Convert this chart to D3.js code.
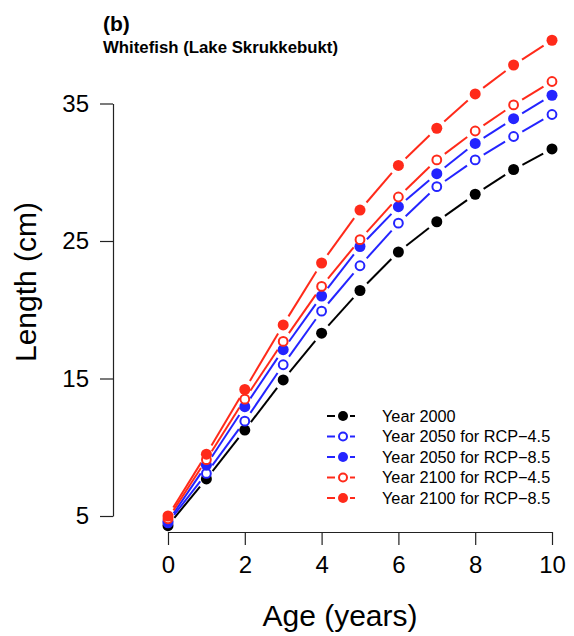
<!DOCTYPE html>
<html>
  <head>
    <script src="https://d3js.org/d3.v7.min.js" type="text/javascript"></script>
    <style>
      body { margin: 0; background: #fff; }
      text { font-family: "Liberation Sans", Arial, Helvetica, sans-serif; }
    </style>
  </head>
  <body>
  <svg id="svg" width="574" height="636"></svg>

  <script type="text/javascript">
   // growth curves
   var ages = [0, 1, 2, 3, 4, 5, 6, 7, 8, 9, 10];
   var year2000   = [4.3, 7.7, 11.25, 14.9, 18.3, 21.4, 24.2, 26.4, 28.4, 30.2, 31.7];
   var y2050rcp45 = [4.5, 8.1, 11.9, 16.0, 19.9, 23.2, 26.3, 28.95, 30.9, 32.6, 34.2];
   var y2050rcp85 = [4.6, 8.7, 12.95, 17.1, 21.0, 24.6, 27.5, 29.9, 32.1, 33.9, 35.6];
   var y2100rcp45 = [4.8, 9.1, 13.5, 17.7, 21.7, 25.1, 28.2, 30.9, 33.0, 34.9, 36.6];
   var y2100rcp85 = [5.0, 9.5, 14.2, 18.9, 23.4, 27.25, 30.5, 33.2, 35.7, 37.8, 39.6];

   var seriesNames = ["Year 2000", "Year 2050 for RCP\u22124.5", "Year 2050 for RCP\u22128.5",
                      "Year 2100 for RCP\u22124.5", "Year 2100 for RCP\u22128.5"];
   var xTicks = [0, 2, 4, 6, 8, 10];
   var yTicks = [5, 15, 25, 35];

   var red = "#ff2a1a", blue = "#2424ff";
   var series = [
     {name: seriesNames[0], values: year2000,   color: "#000", open: false},
     {name: seriesNames[1], values: y2050rcp45, color: blue,   open: true},
     {name: seriesNames[2], values: y2050rcp85, color: blue,   open: false},
     {name: seriesNames[3], values: y2100rcp45, color: red,    open: true},
     {name: seriesNames[4], values: y2100rcp85, color: red,    open: false}
   ];

   var svg = d3.select("svg");

   var x = d3.scaleLinear().domain([0, 10]).range([168, 552]);
   var y = d3.scaleLinear().domain([5, 35]).range([516, 103.5]);

   // axes, R style (line only spans the tick range)
   var xAxis = svg.append("g")
       .attr("transform", "translate(0,532)")
       .call(d3.axisBottom(x).tickValues(xTicks).tickSize(13).tickPadding(5).tickSizeOuter(0));
   var yAxis = svg.append("g")
       .attr("transform", "translate(113,0)")
       .call(d3.axisLeft(y).tickValues(yTicks).tickSize(13).tickPadding(11).tickSizeOuter(0));

   [xAxis, yAxis].forEach(function(a){
     a.select(".domain").attr("stroke", "#222").attr("stroke-width", 1.2);
     a.selectAll(".tick line").attr("stroke", "#222").attr("stroke-width", 1.2);
     a.selectAll(".tick text")
       .attr("fill", "#000")
       .style("font-size", "24px")
       .style("font-family", "Liberation Sans, Arial, sans-serif");
   });
   xAxis.selectAll(".tick text").attr("dy", "0.95em");

   // titles
   svg.append("text").attr("x", 103).attr("y", 31)
      .style("font-size", "21px").style("font-weight", "bold").text("(b)");
   svg.append("text").attr("x", 103).attr("y", 53)
      .style("font-size", "16.8px").style("font-weight", "bold").text("Whitefish (Lake Skrukkebukt)");

   svg.append("text").attr("x", 340).attr("y", 626)
      .attr("text-anchor", "middle").style("font-size", "30px").text("Age (years)");
   svg.append("text")
      .attr("transform", "translate(36,282) rotate(-90)")
      .attr("text-anchor", "middle").style("font-size", "30px").text("Length (cm)");

   // lines with gaps around points (type = "b")
   var gap = 10;
   var plot = svg.append("g");
   series.forEach(function(s){
     var pts = ages.map(function(a, i){ return [x(a), y(s.values[i])]; });
     var segs = [];
     for (var i = 0; i < pts.length - 1; i++) {
       var p = pts[i], q = pts[i + 1];
       var dx = q[0] - p[0], dy = q[1] - p[1];
       var len = Math.sqrt(dx * dx + dy * dy);
       var ux = dx / len, uy = dy / len;
       segs.push([p[0] + ux * gap, p[1] + uy * gap, q[0] - ux * gap, q[1] - uy * gap]);
     }
     plot.append("g").selectAll("line")
        .data(segs).enter().append("line")
        .attr("x1", function(d){ return d[0]; })
        .attr("y1", function(d){ return d[1]; })
        .attr("x2", function(d){ return d[2]; })
        .attr("y2", function(d){ return d[3]; })
        .attr("stroke", s.color).attr("stroke-width", 2);
   });

   // points
   series.forEach(function(s){
     plot.append("g").selectAll("circle")
        .data(s.values).enter().append("circle")
        .attr("cx", function(d, i){ return x(ages[i]); })
        .attr("cy", function(d){ return y(d); })
        .attr("r", s.open ? 4.4 : 5.5)
        .attr("fill", s.open ? "#fff" : s.color)
        .attr("stroke", s.open ? s.color : "none")
        .attr("stroke-width", 2);
   });

   // legend
   var legend = svg.append("g");
   var rows = legend.selectAll("g").data(series).enter().append("g")
      .attr("transform", function(d, i){ return "translate(0," + (416 + i * 20.5) + ")"; });
   rows.append("line").attr("x1", 327).attr("x2", 335).attr("y1", 0).attr("y2", 0)
      .attr("stroke", function(d){ return d.color; }).attr("stroke-width", 2);
   rows.append("line").attr("x1", 350).attr("x2", 355).attr("y1", 0).attr("y2", 0)
      .attr("stroke", function(d){ return d.color; }).attr("stroke-width", 2);
   rows.append("circle").attr("cx", 343).attr("cy", 0)
      .attr("r", function(d){ return d.open ? 4 : 5; })
      .attr("fill", function(d){ return d.open ? "#fff" : d.color; })
      .attr("stroke", function(d){ return d.open ? d.color : "none"; })
      .attr("stroke-width", 2);
   rows.append("text").attr("x", 382).attr("y", 5.6)
      .style("font-size", "16.3px")
      .text(function(d){ return d.name; });
  </script>
  </body>
</html>
